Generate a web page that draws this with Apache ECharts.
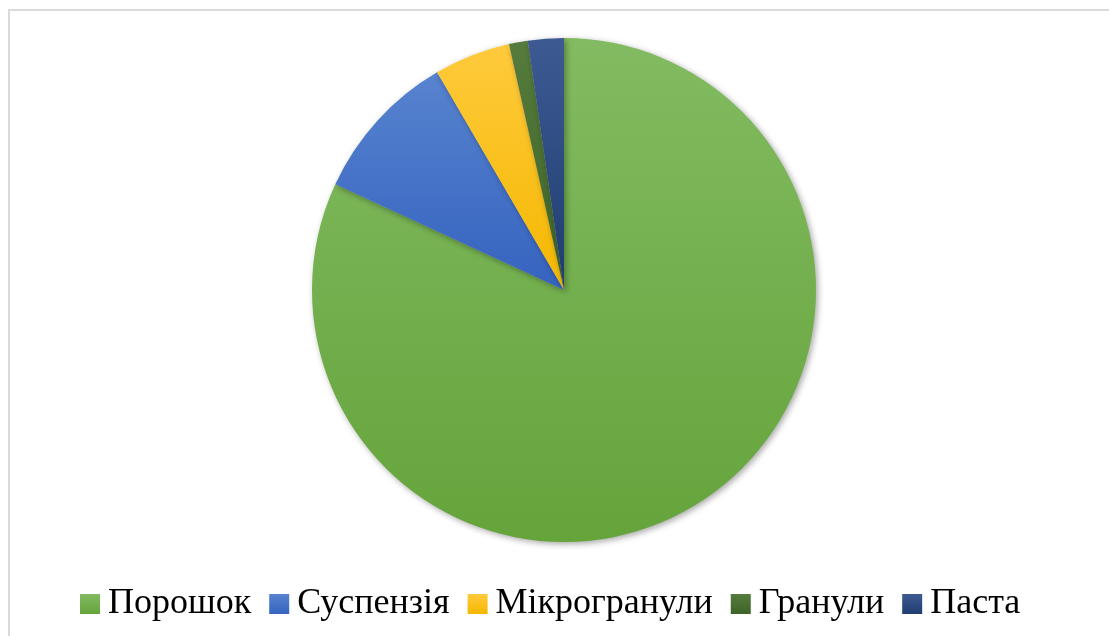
<!DOCTYPE html>
<html>
<head>
<meta charset="utf-8">
<script src="https://cdn.jsdelivr.net/npm/echarts@6/dist/echarts.min.js"></script>
<style>
  html, body { margin: 0; padding: 0; background: #ffffff; }
  #chart { width: 1109px; height: 636px; }
</style>
</head>
<body>
<div id="chart"></div>
<script>
// дані діаграми (частки, %)
var categories = ['Порошок', 'Суспензія', 'Мікрогранули', 'Гранули', 'Паста'];
var values = [81.9, 9.7, 4.9, 1.2, 2.3];
var topColors = ['#82bb61', '#5783cf', '#ffca3c', '#557c3c', '#3d5a93'];
var bottomColors = ['#65a43b', '#3563bf', '#f4b800', '#3d6327', '#1f3d70'];

function grad(i) {
    return new echarts.graphic.LinearGradient(0, 0, 0, 1, [
        { offset: 0, color: topColors[i] },
        { offset: 1, color: bottomColors[i] }
    ]);
}

var pieData = [];
for (var i = 0; i < categories.length; i++) {
    pieData.push({ name: categories[i], value: values[i], itemStyle: { color: grad(i) } });
}

var myChart = echarts.init(document.getElementById('chart'));
var option = {
    animation: false,
    graphic: [{
        type: 'rect',
        shape: { x: 9, y: 10, width: 1112, height: 700 },
        style: { fill: 'none', stroke: '#d9d9d9', lineWidth: 2 },
        z: -1
    }],
    legend: {
        data: categories,
        left: 75,
        top: 581,
        icon: 'rect',
        itemWidth: 20,
        itemHeight: 20,
        itemGap: 18,
        textStyle: {
            fontFamily: 'Liberation Serif',
            fontSize: 36,
            color: '#000000',
            padding: [0, 0, 0, 3]
        },
        selectedMode: false
    },
    series: [{
        type: 'pie',
        center: [564, 290],
        radius: [0, 252],
        startAngle: 90,
        clockwise: true,
        silent: true,
        label: { show: false },
        labelLine: { show: false },
        itemStyle: {
            shadowColor: 'rgba(0,0,0,0.35)',
            shadowBlur: 6,
            shadowOffsetX: 2,
            shadowOffsetY: 2
        },
        data: pieData
    }]
};
myChart.setOption(option);
</script>
</body>
</html>
